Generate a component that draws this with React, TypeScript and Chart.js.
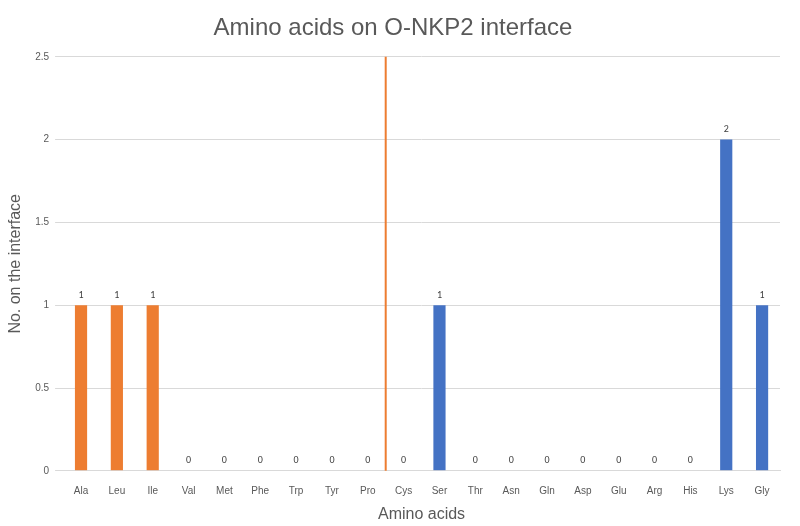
import React, { useEffect, useRef } from "react";
import { Chart, registerables } from "chart.js";
Chart.register(...registerables);

const categories = ["Ala","Leu","Ile","Val","Met","Phe","Trp","Tyr","Pro","Cys","Ser","Thr","Asn","Gln","Asp","Glu","Arg","His","Lys","Gly"];
const values = [1,1,1,0,0,0,0,0,0,0,1,0,0,0,0,0,0,0,2,1];
const orangeCount = 9;
const yTicks = [0, 0.5, 1, 1.5, 2, 2.5];

const ORANGE = "#ED7D31";
const BLUE = "#4472C4";
const TXT = "#595959";

const extras = {
  id: "extras",
  afterDatasetsDraw(chart: any) {
    const ctx = chart.ctx;
    const x = chart.scales.x, y = chart.scales.y;
    const xl = (x.getPixelForValue(orangeCount - 1) + x.getPixelForValue(orangeCount)) / 2;
    ctx.save();
    ctx.strokeStyle = ORANGE;
    ctx.lineWidth = 2;
    ctx.beginPath();
    ctx.moveTo(xl, y.getPixelForValue(2.5));
    ctx.lineTo(xl, y.getPixelForValue(0));
    ctx.stroke();
    ctx.fillStyle = "#404040";
    ctx.font = "10px Calibri, 'Liberation Sans', sans-serif";
    ctx.textAlign = "center";
    ctx.textBaseline = "bottom";
    const meta = chart.getDatasetMeta(0);
    meta.data.forEach((bar: any, i: number) => {
      ctx.fillText(String(values[i]), bar.x, bar.y - 5);
    });
    ctx.restore();
  },
};

export default function App() {
  const ref = useRef<HTMLCanvasElement>(null);
  useEffect(() => {
    document.body.style.margin = "0";
    const chart = new Chart(ref.current!, {
      type: "bar",
      data: {
        labels: categories,
        datasets: [{
          data: values,
          backgroundColor: values.map((_, i) => (i < orangeCount ? ORANGE : BLUE)),
          barPercentage: 0.34,
          categoryPercentage: 1,
        }],
      },
      options: {
        animation: false,
        responsive: false,
        layout: { padding: { left: 6, right: 20, top: 10, bottom: 0 } },
        plugins: {
          legend: { display: false },
          tooltip: { enabled: false },
          title: {
            display: true,
            text: "Amino acids on O-NKP2 interface",
            color: TXT,
            font: { size: 24, family: "'Liberation Sans', sans-serif", weight: "normal" },
            padding: { top: 4, bottom: 14 },
          },
        },
        scales: {
          x: {
            grid: { display: false },
            border: { color: "#D9D9D9" },
            ticks: { color: TXT, font: { size: 10 }, padding: 6 },
            title: { display: true, text: "Amino acids", color: TXT, font: { size: 16 }, padding: { top: 2, bottom: 2 } },
          },
          y: {
            min: 0, max: 2.5,
            afterBuildTicks: (s: any) => { s.ticks = yTicks.map((v) => ({ value: v })); },
            grid: { color: "#D9D9D9" },
            border: { display: false },
            ticks: { color: TXT, font: { size: 10 }, padding: 6, callback: (v: any) => String(v) },
            title: { display: true, text: "No. on the interface", color: TXT, font: { size: 16 }, padding: { top: 0, bottom: 4 } },
          },
        },
      },
      plugins: [extras],
    });
    return () => chart.destroy();
  }, []);
  return <canvas ref={ref} width={800} height={526} />;
}
